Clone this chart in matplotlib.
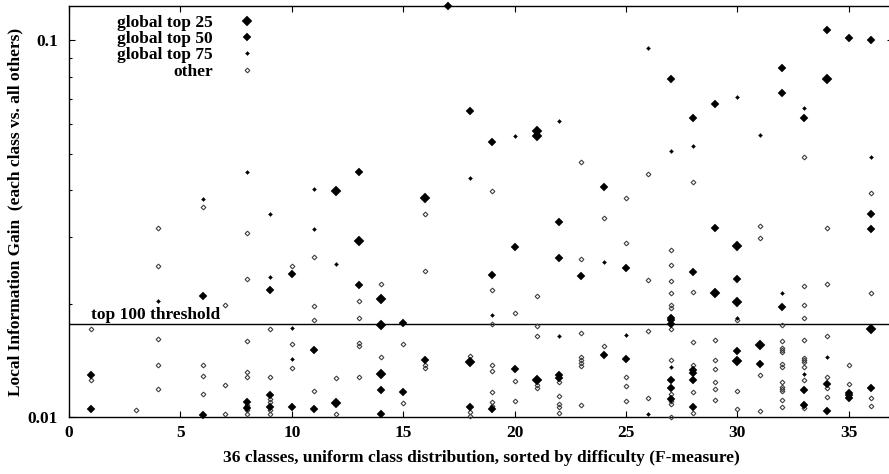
import matplotlib
matplotlib.use('Agg')
import matplotlib.pyplot as plt
from matplotlib.ticker import FixedLocator, NullFormatter, FixedFormatter

plt.rcParams['font.family'] = ['Liberation Serif', 'DejaVu Serif']
plt.rcParams['font.weight'] = 'bold'
plt.rcParams['font.size'] = 12.5

# ---------------- data ----------------
top25_x = [12, 12, 13, 14, 14, 14, 16, 18, 21, 21, 21, 29, 30, 30, 30, 31, 34, 36]
top25_y = [0.0397, 0.01089, 0.0293, 0.02063, 0.01756, 0.01304, 0.0381, 0.0140,
           0.0574, 0.0559, 0.01252, 0.0214, 0.0284, 0.0202, 0.01405, 0.01557,
           0.0788, 0.0171]

top50_x = [1, 1, 6, 6, 8, 8, 9, 9, 9, 10, 10, 11, 11, 13, 13, 14, 14, 15, 15, 16, 17,
           18, 18, 19, 19, 19, 20, 20, 22, 22, 22, 22, 23, 24, 24, 25, 25,
           27, 27, 27, 27, 27, 27, 27, 28, 28, 28, 28, 28, 28, 29, 29, 30, 30, 31,
           32, 32, 32, 33, 33, 33, 34, 34, 34, 35, 35, 35, 35, 36, 36, 36, 36]
top50_y = [0.01293, 0.01053, 0.0210, 0.01015, 0.01099, 0.01057, 0.0218, 0.01144, 0.01063,
           0.0239, 0.01061, 0.01504, 0.0105, 0.0446, 0.0224, 0.01177, 0.01017,
           0.01782, 0.01168, 0.01421, 0.1234,
           0.0650, 0.01063, 0.0537, 0.0238, 0.01053, 0.0282, 0.01341,
           0.0330, 0.0264, 0.01291, 0.01269, 0.0237, 0.0407, 0.01465, 0.0249, 0.01429,
           0.0788, 0.01837, 0.01807, 0.01771, 0.01257, 0.01194, 0.01119,
           0.0624, 0.0243, 0.01331, 0.01309, 0.01257, 0.01063,
           0.0676, 0.0317, 0.0233, 0.01495, 0.01386,
           0.0844, 0.0724, 0.0196, 0.0622, 0.01177, 0.01074,
           0.1063, 0.01222, 0.01037, 0.1016, 0.01158, 0.01142, 0.01126,
           0.1000, 0.0346, 0.0315, 0.01197]

top75_x = [4, 6, 8, 9, 9, 10, 10, 11, 11, 12, 18, 19, 20, 22, 22, 24, 25, 26, 26,
           27, 27, 28, 30, 30, 31, 32, 33, 33, 34, 36]
top75_y = [0.0203, 0.0379, 0.0446, 0.0345, 0.0236, 0.0172, 0.01429, 0.0402, 0.0315,
           0.0255, 0.0430, 0.0187, 0.0558, 0.0611, 0.0164, 0.0258, 0.01655, 0.0952,
           0.01019, 0.0510, 0.01358, 0.0524, 0.0708, 0.0183, 0.0560, 0.0214, 0.0662,
           0.01299, 0.01447, 0.0489]

other_x = [1, 1, 3, 4, 4, 4, 4, 4, 6, 6, 6, 6, 7, 7, 7,
           8, 8, 8, 8, 8, 8, 8, 8, 9, 9, 9, 9, 9, 9, 10, 10, 10,
           11, 11, 11, 11, 12, 12, 13, 13, 13, 13, 13, 14, 14, 15, 15,
           16, 16, 16, 16, 18, 18, 18, 19, 19, 19, 19, 19, 19, 19, 19,
           20, 20, 20, 21, 21, 21, 21, 21, 22, 22, 22, 22, 22,
           23, 23, 23, 23, 23, 23, 23, 23, 24, 24, 25, 25, 25, 25, 25,
           26, 26, 26, 26, 27, 27, 27, 27, 27, 27, 27, 27, 27, 27, 27, 27,
           28, 28, 28, 28, 28, 28, 29, 29, 29, 29, 29, 29, 30, 30, 30,
           31, 31, 31, 31, 32, 32, 32, 32, 32, 32, 32, 32, 32, 32, 32, 32, 32,
           33, 33, 33, 33, 33, 33, 33, 33, 33, 33, 33,
           34, 34, 34, 34, 34, 34, 35, 35, 36, 36, 36, 36]
other_y = [0.01713, 0.01252, 0.01042, 0.0318, 0.0252, 0.01608, 0.01372, 0.01185,
           0.0360, 0.01378, 0.01285, 0.01154, 0.0198, 0.01216, 0.01021,
           0.0308, 0.0232, 0.01596, 0.01315, 0.01277, 0.01076, 0.01042, 0.01021,
           0.01713, 0.01277, 0.01119, 0.01096, 0.01042, 0.01021,
           0.0251, 0.0156, 0.01353,
           0.0266, 0.01968, 0.01814, 0.0117, 0.01269, 0.01021,
           0.0203, 0.01832, 0.01573, 0.01541, 0.01275, 0.0226, 0.01443, 0.0156, 0.01087,
           0.0345, 0.0244, 0.01378, 0.01353, 0.01456, 0.01031, 0.01009,
           0.0397, 0.0218, 0.01771, 0.01378, 0.01323, 0.01165, 0.01096, 0.01068,
           0.01886, 0.01249, 0.01101, 0.0210, 0.01742, 0.01645, 0.01214, 0.01196,
           0.01239, 0.01137, 0.01081, 0.01063, 0.01025,
           0.0474, 0.0262, 0.01672, 0.01443, 0.01415, 0.01391, 0.01364, 0.01076,
           0.0338, 0.01541, 0.0381, 0.0289, 0.01277, 0.01207, 0.01101,
           0.0443, 0.0231, 0.01689, 0.01121,
           0.0278, 0.0253, 0.0230, 0.0214, 0.0198, 0.01953, 0.01713, 0.01415,
           0.01154, 0.01101, 0.01081, 0.0100,
           0.0421, 0.0215, 0.01579, 0.01372, 0.01165, 0.01025,
           0.01599, 0.01421, 0.01341, 0.01239, 0.01185, 0.01112,
           0.01807, 0.0117, 0.01048,
           0.0322, 0.0298, 0.01296, 0.0104,
           0.01752, 0.01589, 0.01529, 0.01508, 0.01488, 0.01386, 0.01358, 0.01239,
           0.01203, 0.0119, 0.01175, 0.01108, 0.01063,
           0.0489, 0.0223, 0.01989, 0.0183, 0.01599, 0.01438, 0.01419, 0.0140,
           0.01355, 0.01252, 0.01059,
           0.0318, 0.0226, 0.01638, 0.01277, 0.01197, 0.0113,
           0.01372, 0.01222,
           0.0394, 0.0214, 0.01126, 0.01072]

threshold = 0.0177
threshold_label = "top 100 threshold"
series_labels = ["global top 25", "global top 50", "global top 75", "other"]
x_ticks = [0, 5, 10, 15, 20, 25, 30, 35]
y_major = [0.01, 0.1]
y_major_labels = ["0.01", "0.1"]
y_minor = [0.02, 0.03, 0.04, 0.05, 0.06, 0.07, 0.08, 0.09]

# ---------------- figure ----------------
FS = 12.5
fig = plt.figure(figsize=(8.89, 4.74), dpi=100)
ax = fig.add_axes([0.07762, 0.12025, 0.9273, 0.8671])
ax.set_yscale('log')
ax.set_xlim(0, 37)
ax.set_ylim(0.01, 0.1234)

ax.axhline(threshold, color='black', lw=1.0, zorder=1)
ax.annotate(threshold_label, xy=(1.0, threshold), xytext=(0, 0.5),
            textcoords='offset points', ha='left', va='bottom',
            fontsize=FS, fontweight='bold')

h1, = ax.plot(top25_x, top25_y, ls='none', marker='D', ms=5.6, mfc='black',
              mec='black', mew=0.3, clip_on=False, zorder=5, label=series_labels[0])
h2, = ax.plot(top50_x, top50_y, ls='none', marker='D', ms=3.7, mfc='black',
              mec='black', mew=0.3, clip_on=False, zorder=5, label=series_labels[1])
h3, = ax.plot(top75_x, top75_y, ls='none', marker='D', ms=2.0, mfc='black',
              mec='black', mew=0.3, clip_on=False, zorder=5, label=series_labels[2])
h4, = ax.plot(other_x, other_y, ls='none', marker='D', ms=2.4, mfc='none',
              mec='#404040', mew=0.8, clip_on=False, zorder=4, label=series_labels[3])

leg = ax.legend(handles=[h1, h2, h3, h4], loc='upper right',
                bbox_to_anchor=(0.2365, 0.978), markerfirst=False, frameon=False,
                borderpad=0, borderaxespad=0, handletextpad=0.95, handlelength=2.0,
                labelspacing=0.0, fontsize=FS, numpoints=1)

ax.xaxis.set_major_locator(FixedLocator(x_ticks))
ax.yaxis.set_major_locator(FixedLocator(y_major))
ax.yaxis.set_major_formatter(FixedFormatter(y_major_labels))
ax.yaxis.set_minor_locator(FixedLocator(y_minor))
ax.yaxis.set_minor_formatter(NullFormatter())
ax.tick_params(axis='both', which='major', direction='in', length=4.3, width=0.8,
               top=True, right=True, labelsize=FS, pad=8)
ax.tick_params(axis='y', which='minor', direction='in', length=2.2, width=0.8,
               right=True, left=True)
ax.tick_params(axis='x', which='major', pad=6)

for s in ax.spines.values():
    s.set_linewidth(1.0)
    s.set_color('black')

ax.set_xlabel("36 classes, uniform class distribution, sorted by difficulty (F-measure)",
              fontsize=FS, fontweight='bold')
ax.set_ylabel("Local Information Gain  (each class vs. all others)",
              fontsize=FS, fontweight='bold')
ax.xaxis.set_label_coords(0.5, -0.080)
ax.yaxis.set_label_coords(-0.055, 0.5)

fig.savefig('out.png', dpi=100)
